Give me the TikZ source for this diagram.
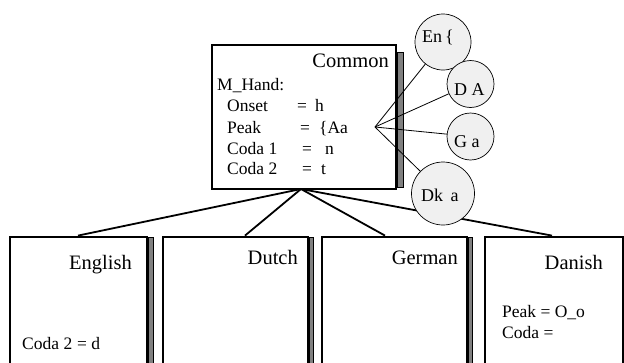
\documentclass[tikz,border=0pt]{standalone}
\usepackage{fontspec}
\setmainfont{Liberation Serif}
\begin{document}
\begin{tikzpicture}[x=1pt,y=-1pt,
  box/.style={draw, line width=2.8pt, fill=white, inner sep=0pt},
  shadowbar/.style={fill=black!50, draw=black, line width=0.5pt},
  bubble/.style={draw, circle, fill=black!6, line width=0.7pt, inner sep=0pt},
  thinline/.style={line width=0.8pt},
  thickline/.style={line width=1.8pt},
  title/.style={font=\fontsize{20.5}{22}\selectfont, inner sep=0pt},
  body/.style={font=\fontsize{17.5}{19}\selectfont, inner sep=0pt},
  btext/.style={font=\fontsize{18}{19}\selectfont, inner sep=0pt}]
\useasboundingbox (0,0) rectangle (624,362);

% connector hubs
\coordinate (hub) at (375,127);
\coordinate (cb) at (301,189);

% bottom boxes
\node[box, minimum width=137pt, minimum height=150pt] (english) at (78.5,312) {};
\node[box, minimum width=145pt, minimum height=150pt] (dutch) at (235.5,312) {};
\node[box, minimum width=145pt, minimum height=150pt] (german) at (394.5,312) {};
\node[box, minimum width=138pt, minimum height=150pt] (danish) at (554,312) {};
\fill[shadowbar] (148.5,237) rectangle (153.5,370);
\fill[shadowbar] (309.5,237) rectangle (313.5,370);
\fill[shadowbar] (468.5,237) rectangle (472.5,370);
\draw[shadowbar] (148.5,237) rectangle (153.5,370);
\draw[shadowbar] (309.5,237) rectangle (313.5,370);
\draw[shadowbar] (468.5,237) rectangle (472.5,370);

% tree connectors
\draw[thickline] (cb) -- ([xshift=-0.5pt]english.north);
\draw[thickline] (cb) -- ([xshift=9.5pt]dutch.north);
\draw[thickline] (cb) -- ([xshift=-9.5pt]german.north);
\draw[thickline] (cb) -- ([xshift=-2pt]danish.north);

% common box
\draw[shadowbar] (397.5,52) rectangle (403,187);
\node[box, minimum width=184pt, minimum height=144pt] (common) at (304,117) {};

% bubbles
\node[bubble, minimum size=56pt] (en) at (443,42) {};
\node[bubble, minimum size=47pt] (da) at (470.5,84) {};
\node[bubble, minimum size=47pt] (ga) at (470.5,136.5) {};
\node[bubble, minimum size=63pt] (dk) at (443,193.5) {};
\draw[thinline] (hub) -- (en);
\draw[thinline] (hub) -- (da);
\draw[thinline] (hub) -- (ga);
\draw[thinline] (hub) -- (dk);
\node[btext, anchor=base west] (ent) at (422,42) {En\,\{};
\node[btext, anchor=base west] (dat) at (454,95) {D A};
\node[btext, anchor=base west] (gat) at (454,147) {G a};
\node[btext, anchor=base west] (dkt) at (421,201) {Dk\, a};

% common texts
\node[title, anchor=base east] (ctitle) at (389,67) {Common};
\node[body, anchor=base west] (mh) at (217,90) {M\_Hand:};
\node[body, anchor=base west] (l1) at (227,111.5) {Onset};
\node[body, anchor=base west] (l2) at (227,133) {Peak};
\node[body, anchor=base west] (l3) at (227,154.5) {Coda 1};
\node[body, anchor=base west] (l4) at (227,174) {Coda 2};
\node[body, anchor=base west] (e1) at (297,111.5) {=};
\node[body, anchor=base west] (e2) at (300,133) {=};
\node[body, anchor=base west] (e3) at (302,154.5) {=};
\node[body, anchor=base west] (e4) at (302,174) {=};
\node[body, anchor=base west] (v1) at (315,111.5) {h};
\node[body, anchor=base west] (v2) at (319,133) {\{Aa};
\node[body, anchor=base west] (v3) at (325,154.5) {n};
\node[body, anchor=base west] (v4) at (321,174) {t};

% bottom texts
\node[title, anchor=base east] (t1) at (132,269) {English};
\node[title, anchor=base east] (t2) at (298,264) {Dutch};
\node[title, anchor=base east] (t3) at (458,264) {German};
\node[title, anchor=base east] (t4) at (603,269) {Danish};
\node[body, anchor=base west] (enc) at (22,349) {Coda 2};
\node[body, anchor=base west] (enc2) at (77,349) {= d};
\node[body, anchor=base west] (dap) at (502,317) {Peak = O\_o};
\node[body, anchor=base west] (dac) at (502,338) {Coda =};
\end{tikzpicture}
\end{document}
